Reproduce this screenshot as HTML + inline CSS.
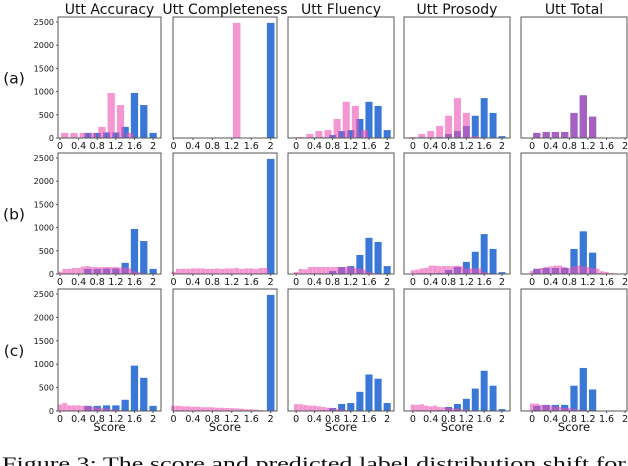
<!DOCTYPE html>
<html><head><meta charset="utf-8"><style>
html,body{margin:0;padding:0;background:#fff;width:628px;height:466px;overflow:hidden}
svg{display:block;font-family:"DejaVu Sans","Liberation Sans",sans-serif}
</style></head><body>
<svg id="fig" width="628" height="466" viewBox="0 0 628 466"></svg>
<script>
// ---- data ----
const titles = ["Utt Accuracy","Utt Completeness","Utt Fluency","Utt Prosody","Utt Total"];
const rowLabels = ["(a)","(b)","(c)"];
const yTicks = [0,500,1000,1500,2000,2500];
const xTicks = [0,0.4,0.8,1.2,1.6,2];
const xTickLabels = ["0","0.4","0.8","1.2","1.6","2"];
const binsCoarse = [0,0.2,0.4,0.6,0.8,1.0,1.2,1.4,1.6,1.8,2.0];
const binsOdd = [0.1,0.3,0.5,0.7,0.9,1.1,1.3,1.5,1.7,1.9];
const binsFine = [0,0.1,0.2,0.3,0.4,0.5,0.6,0.7,0.8,0.9,1.0,1.1,1.2,1.3,1.4,1.5,1.6,1.7,1.8,1.9,2.0];

// blue (reference) series per column
const blueAcc = [0,0,0,110,110,120,120,240,970,710,110];
const blueComp = [0,0,0,0,0,0,0,0,0,10,2480];
const blueFlu = [0,0,15,15,65,150,170,410,780,690,170];
const bluePros = [0,15,15,20,86,150,260,480,860,540,40];
const blueTot = [110,130,130,130,540,920,460,10,0,0]; // on binsOdd

// row (a) pink
const pinkA1 = [110,110,110,110,240,970,710,110,0,0]; // binsOdd
const pinkA2 = [0,0,0,0,0,10,2480,0,0,0];               // binsOdd
const pinkA3 = [20,86,150,170,410,780,690,170,0,0];     // binsOdd
const pinkA4 = [20,86,150,260,480,860,540,40,0,0,0];    // binsCoarse
const pinkA5 = [110,130,130,130,540,920,460,10,0,0];    // binsOdd
// row (b) pink (binsFine)
const pinkB1 = [50,110,110,130,130,160,170,150,150,150,150,150,150,140,140,120,60,40,0,0,0];
const pinkB2 = [50,110,110,110,120,120,120,110,110,120,110,120,120,130,110,120,120,110,130,130,0];
const pinkB3 = [45,110,100,150,150,150,150,150,150,150,150,150,150,130,120,95,50,20,0,0,0];
const pinkB4 = [80,95,120,130,180,180,170,170,170,170,180,170,120,120,120,120,45,20,0,0,0];
const pinkB5 = [65,115,130,150,165,180,180,150,130,165,180,165,150,130,115,60,45,20,0,0,0];
// row (c) pink (binsFine)
const pinkC1 = [140,170,120,120,120,110,100,85,80,65,50,35,30,15,8,0,0,0,0,0,0];
const pinkC2 = [110,110,100,100,90,90,80,80,80,70,70,65,60,55,50,40,35,30,20,10,0];
const pinkC3 = [145,145,130,115,115,100,85,70,60,45,35,20,15,8,0,0,0,0,0,0,0];
const pinkC4 = [135,130,145,115,100,115,85,80,70,60,50,35,30,15,8,0,0,0,0,0,0];
const pinkC5 = [160,155,130,130,115,100,85,70,60,45,30,20,15,0,0,0,0,0,0,0,0];

const blueSeries = [[binsCoarse,blueAcc],[binsCoarse,blueComp],[binsCoarse,blueFlu],[binsCoarse,bluePros],[binsOdd,blueTot]];
const pinkSeries = [
  [[binsOdd,pinkA1],[binsOdd,pinkA2],[binsOdd,pinkA3],[binsCoarse,pinkA4],[binsOdd,pinkA5]],
  [[binsFine,pinkB1],[binsFine,pinkB2],[binsFine,pinkB3],[binsFine,pinkB4],[binsFine,pinkB5]],
  [[binsFine,pinkC1],[binsFine,pinkC2],[binsFine,pinkC3],[binsFine,pinkC4],[binsFine,pinkC5]]
];

// ---- layout ----
const colLeft = [58,173,288,404,521];
const colWidth = [103,104,106,106,106];
const colXmin = [-0.043,-0.01,-0.18,-0.2,-0.24];
const colXmax = [2.17,2.13,2.15,2.18,2.04];
const rowTop = [17,153,289];
const rowBottom = [138,274,411];
const yMax = 2500, yTopOffset = 5;

const NS = "http://www.w3.org/2000/svg";
const svg = document.getElementById("fig");
function mk(tag, attrs, parent){
  const e = document.createElementNS(NS, tag);
  for (const k in attrs) e.setAttribute(k, attrs[k]);
  (parent||svg).appendChild(e);
  return e;
}
function xScale(c, v){ return colLeft[c] + (v - colXmin[c]) / (colXmax[c] - colXmin[c]) * colWidth[c]; }
function yScale(r, v){ return rowBottom[r] - v / yMax * (rowBottom[r] - rowTop[r] - yTopOffset); }

for (let r = 0; r < 3; r++) {
  const lab = mk("text", {x: 14, y: (rowTop[r]+rowBottom[r])/2 + 6, "font-size": 15.5, "text-anchor": "middle", fill: "#111"});
  lab.textContent = rowLabels[r];
  
  
  for (let c = 0; c < 5; c++) {
    const g = mk("g", {});
    
    
    const L = colLeft[c], W = colWidth[c], T = rowTop[r], B = rowBottom[r];
    const [bx, by] = blueSeries[c];
    bx.forEach((x, i) => {
      if (!by[i]) return;
      const x0 = xScale(c, x - 0.078), x1 = xScale(c, x + 0.078);
      const rc = mk("rect", {x: x0, y: yScale(r, by[i]), width: x1 - x0, height: B - yScale(r, by[i]), fill: "#3a78d8"}, g);
      
      
    });
    const [px, py] = pinkSeries[r][c];
    const hw = (px === binsFine) ? 0.048 : 0.078;
    px.forEach((x, i) => {
      if (!py[i]) return;
      const x0 = xScale(c, x - hw), x1 = xScale(c, x + hw);
      const rc = mk("rect", {x: x0, y: yScale(r, py[i]), width: x1 - x0, height: B - yScale(r, py[i]), fill: "rgb(236,80,180)", "fill-opacity": 0.6}, g);
      
      
    });
    const fr = mk("rect", {x: L, y: T, width: W, height: B - T, fill: "none", stroke: "#555", "stroke-width": 1}, g);
    
    
    xTicks.forEach((t, i) => {
      const tx = xScale(c, t);
      mk("line", {x1: tx, y1: B, x2: tx, y2: B + 2, stroke: "#555"}, g);
      const tl = mk("text", {x: tx, y: B + 11, "font-size": 9.5, "text-anchor": "middle", fill: "#111"}, g);
      tl.textContent = xTickLabels[i];
      
      
    });
    if (c === 0) {
      yTicks.forEach(t => {
        const ty = yScale(r, t);
        mk("line", {x1: L - 2, y1: ty, x2: L, y2: ty, stroke: "#555"}, g);
        const yl = mk("text", {x: L - 4, y: ty + 3, "font-size": 8, "text-anchor": "end", fill: "#111"}, g);
        yl.textContent = t;
        
        
      });
    }
    if (r === 0) {
      const tt = mk("text", {x: L + W/2, y: 14, "font-size": 14, "text-anchor": "middle", fill: "#111"});
      tt.textContent = titles[c];
      
      
    }
    if (r === 2) {
      const st = mk("text", {x: L + W/2, y: 431, "font-size": 11.5, "text-anchor": "middle", fill: "#111"});
      st.textContent = "Score";
      
      
    }
  }
}
const cap = mk("text", {x: 2, y: 470, "font-size": 19, fill: "#111", "font-family": "Liberation Serif, serif", textLength: 624, lengthAdjust: "spacingAndGlyphs"});
cap.textContent = "Figure 3: The score and predicted label distribution shift for";


</script>
</body></html>
